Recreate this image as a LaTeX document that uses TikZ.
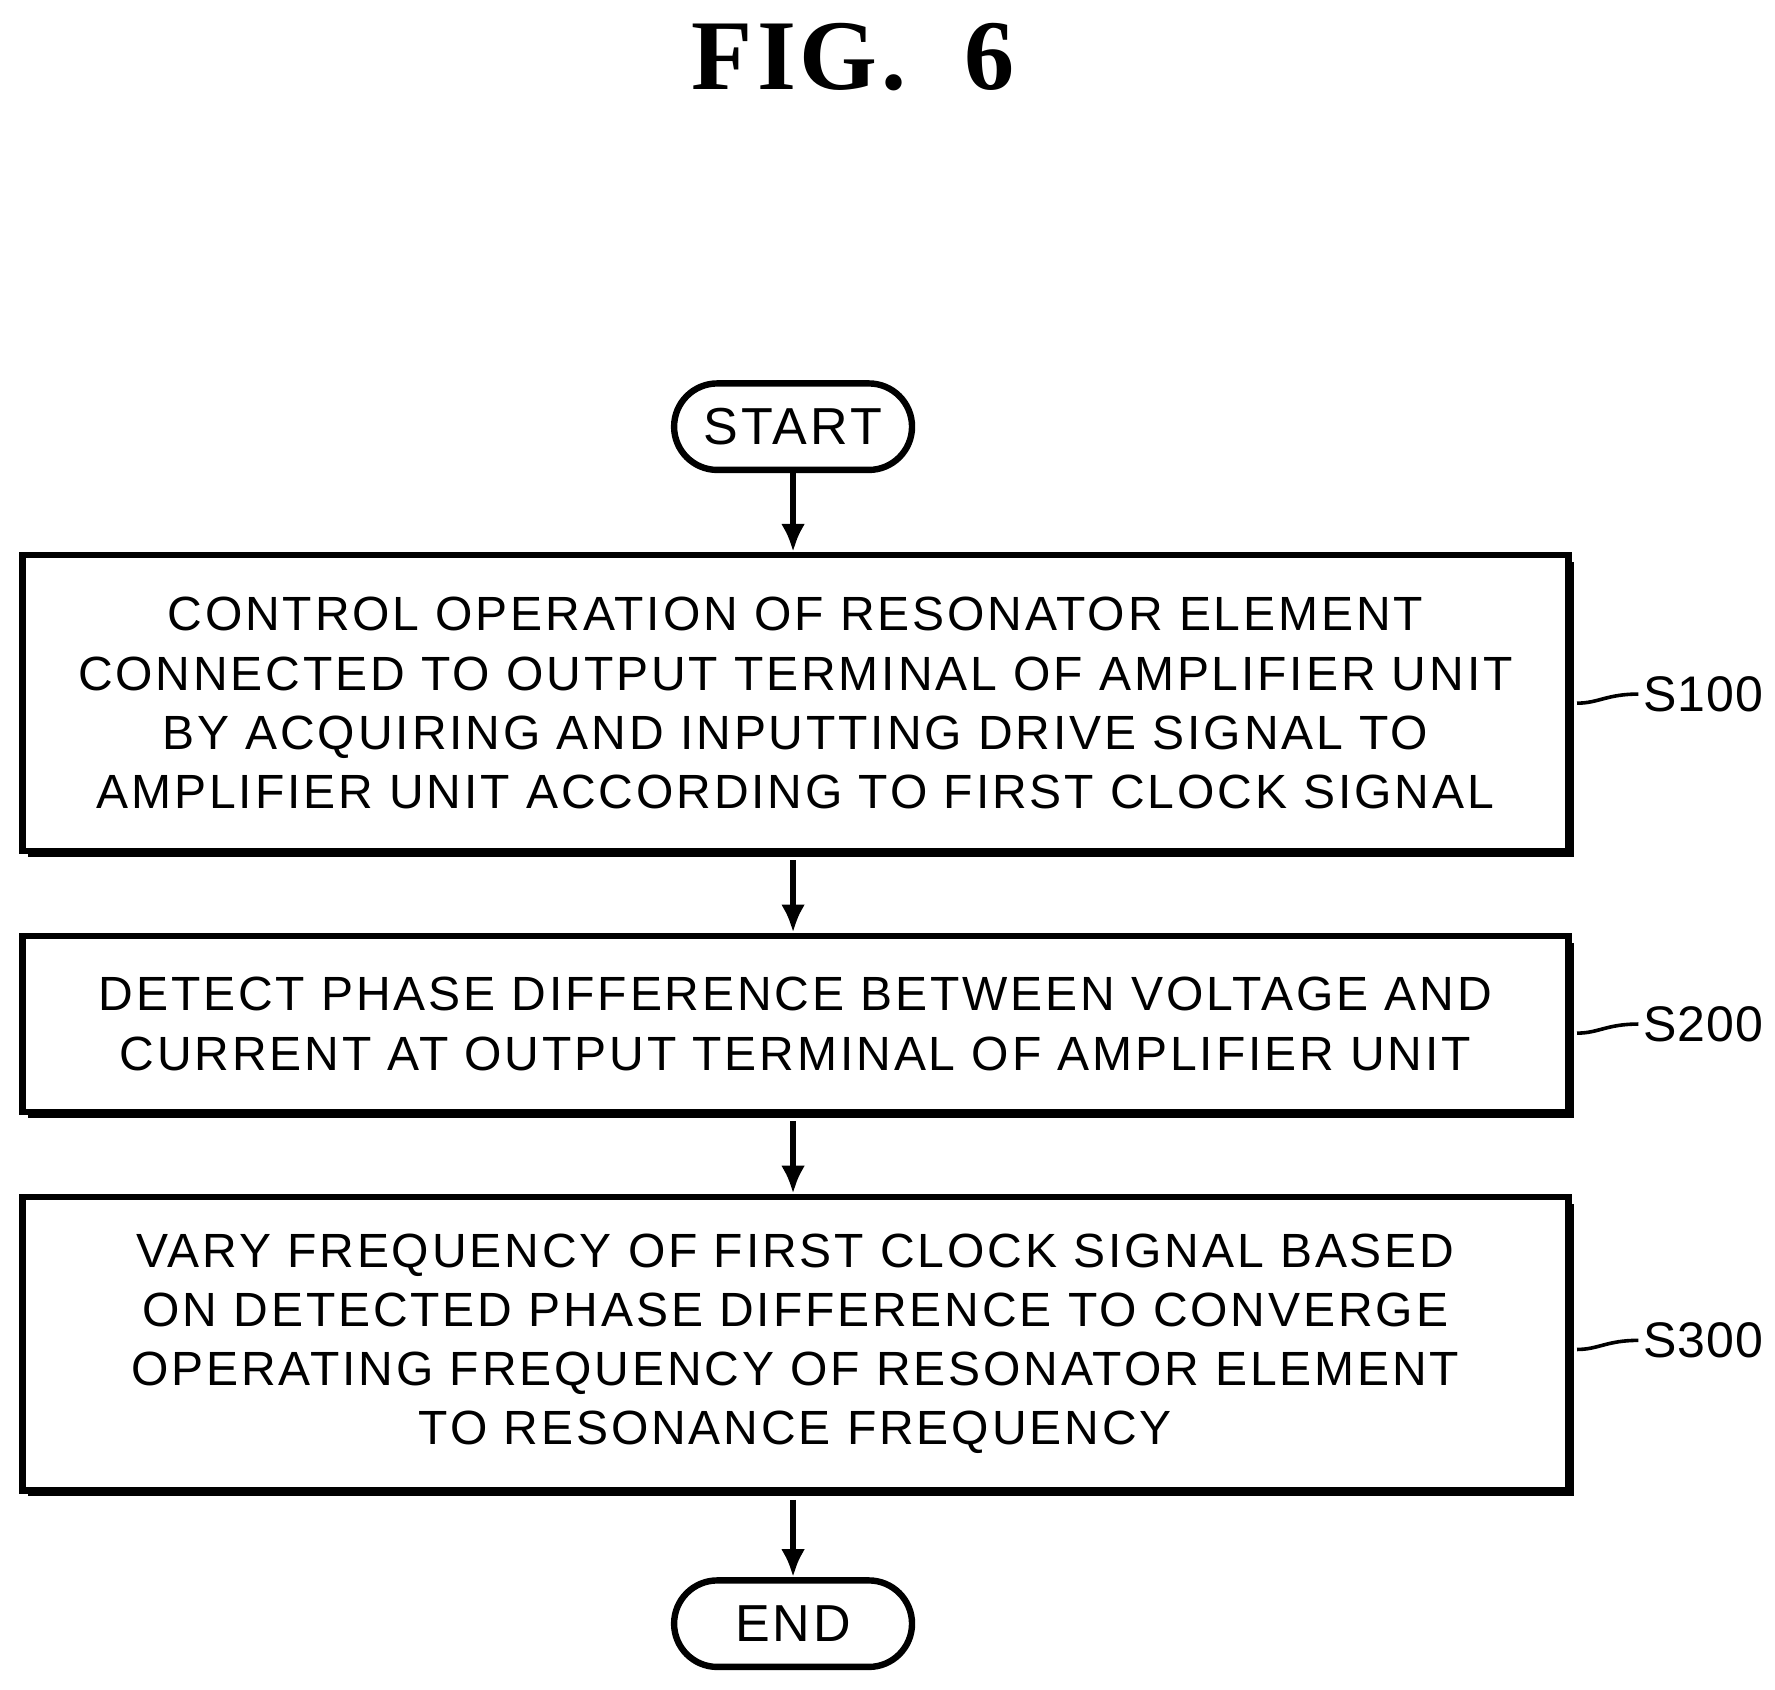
\documentclass[tikz,border=0pt]{standalone}
\usepackage{fontspec}
\usetikzlibrary{arrows.meta}
\setmainfont{Liberation Sans}
\newfontfamily\titlefont{Liberation Serif}
\begin{document}
\begin{tikzpicture}[x=0.01cm,y=-0.01cm,
  box/.style={draw,line width=1.6pt,minimum width=13.58cm,inner sep=0pt,align=center,font=\fontsize{12}{14.8}\selectfont\addfontfeatures{LetterSpace=6}},
  term/.style={draw,line width=1.6pt,rounded corners=0.38cm,minimum width=2.09cm,minimum height=0.76cm,font=\fontsize{13}{16}\selectfont\addfontfeatures{LetterSpace=6}},
  arr/.style={line width=1.4pt,-{Latex[length=7pt,width=6pt]}},
  lab/.style={inner sep=1pt,font=\fontsize{12.5}{16}\selectfont\addfontfeatures{LetterSpace=2}}]
\useasboundingbox (0,0) rectangle (1560,1485);
\node[font=\titlefont\bfseries\fontsize{25}{30}\selectfont\addfontfeatures{LetterSpace=4}] (title) at (750,50) {FIG.\ \ 6};
\node[term] (start) at (697,375) {START};
\node[term] (end) at (697,1427) {END};
\foreach \y/\h in {618/260,900/155,1181/258}{
  \fill (25,\y-\h/2+6) rectangle (1383,\y+\h/2+5);
}
\node[box,fill=white,minimum height=2.6cm] (b1) at (699,618) {CONTROL OPERATION OF RESONATOR ELEMENT\\CONNECTED TO OUTPUT TERMINAL OF AMPLIFIER UNIT\\BY ACQUIRING AND INPUTTING DRIVE SIGNAL TO\\AMPLIFIER UNIT ACCORDING TO FIRST CLOCK SIGNAL};
\node[box,fill=white,minimum height=1.55cm] (b2) at (699,900) {DETECT PHASE DIFFERENCE BETWEEN VOLTAGE AND\\CURRENT AT OUTPUT TERMINAL OF AMPLIFIER UNIT};
\node[box,fill=white,minimum height=2.58cm] (b3) at (699,1181) {VARY FREQUENCY OF FIRST CLOCK SIGNAL BASED\\ON DETECTED PHASE DIFFERENCE TO CONVERGE\\OPERATING FREQUENCY OF RESONATOR ELEMENT\\TO RESONANCE FREQUENCY};
\draw[arr] (start) -- (start |- b1.north);
\draw[arr] ([yshift=-1.5pt]b1.south -| start) -- (start |- b2.north);
\draw[arr] ([yshift=-1.5pt]b2.south -| start) -- (start |- b3.north);
\draw[arr] ([yshift=-1.5pt]b3.south -| start) -- (end);
\node[lab,anchor=west] (s1) at (1440,610) {S100};
\node[lab,anchor=west] (s2) at (1440,900) {S200};
\node[lab,anchor=west] (s3) at (1440,1178) {S300};
\foreach \s/\y in {s1/610,s2/900,s3/1178}{
  \draw[line width=0.9pt] (1386,\y+8) .. controls (1405,\y+8) and (1412,\y) .. (\s.west);
}
\end{tikzpicture}
\end{document}
